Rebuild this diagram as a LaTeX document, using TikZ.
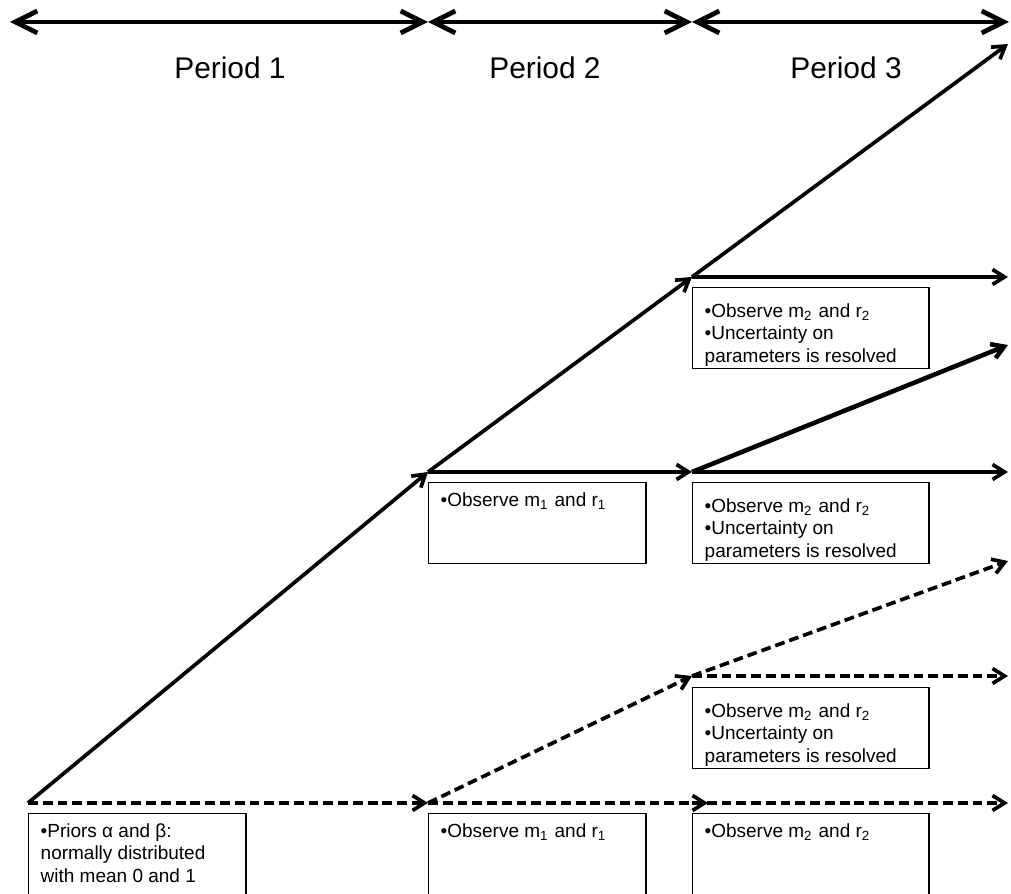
\documentclass[tikz,border=0pt]{standalone}
\usepackage{fontspec}
\setmainfont{Liberation Sans}
\usetikzlibrary{arrows.meta}
\newcommand{\pfont}{\fontsize{8.5}{10}\selectfont}
\newcommand{\bfont}{\fontsize{5.4}{6.4}\selectfont}
\newcommand{\obs}[1]{•Observe m\textsubscript{#1} and r\textsubscript{#1}}
\newcommand{\resolved}{\vspace*{1.6pt}\obs{2}\\•Uncertainty on\\parameters is resolved}

\tikzset{
  pathline/.style={line width=1.05pt, -{Straight Barb[length=1.2mm,width=1.5mm]}},
  waitline/.style={pathline, dash pattern=on 2.8pt off 1.4pt},
  periodline/.style={line width=1.35pt,
    {Straight Barb[length=2.2mm,width=2.2mm]}-{Straight Barb[length=2.2mm,width=2.2mm]}},
  infobox/.style={draw, line width=0.4pt, anchor=north west, inner xsep=0.12cm,
    inner ysep=0.1cm, font=\bfont},
}

\begin{document}
\begin{tikzpicture}[x=0.01cm, y=-0.01cm]
  \useasboundingbox (0,0) rectangle (1011,894);
  % period markers
  \coordinate (t0) at (10,22); \coordinate (t1) at (428,22);
  \coordinate (t2) at (692,22); \coordinate (t3) at (1009,22);
  \draw[periodline] (t0) -- (t1); \draw[periodline] (t1) -- (t2);
  \draw[periodline] (t2) -- (t3);
  \node[font=\pfont] (p1) at (230,68) {Period 1};
  \node[font=\pfont] (p2) at (545,68) {Period 2};
  \node[font=\pfont] (p3) at (846,68) {Period 3};

  % decision points
  \coordinate (root) at (28,803);
  \coordinate (hi) at (428,472); \coordinate (lo) at (428,803);
  \coordinate (hihi) at (692,277); \coordinate (hilo) at (692,472);
  \coordinate (lohi) at (692,676); \coordinate (lolo) at (692,803);
  \coordinate (e1) at (1008,44); \coordinate (e2) at (1008,277);
  \coordinate (e3) at (1008,345); \coordinate (e4) at (1008,472);
  \coordinate (e5) at (1008,561); \coordinate (e6) at (1008,676);
  \coordinate (e7) at (1008,803);

  \draw[pathline] (root) -- (hi); \draw[waitline] (root) -- (lo);
  \draw[pathline] (hi) -- (hihi); \draw[pathline] (hi) -- (hilo);
  \draw[waitline] (lo) -- (lohi);
  \draw[waitline, shorten >=-1.6mm] (lo) -- (lolo);
  \draw[pathline] (hihi) -- (e1); \draw[pathline] (hihi) -- (e2);
  \draw[pathline, line width=1.3pt] (hilo) -- (e3); \draw[pathline] (hilo) -- (e4);
  \draw[waitline] (lohi) -- (e5); \draw[waitline] (lohi) -- (e6);
  \draw[waitline] (lolo) -- (e7);

  % information boxes
  \node[infobox] (box0) at (28,813) {\parbox[t][0.7cm][t]{1.93cm}{%
    •Priors α and β:\\normally distributed\\with mean 0 and 1}};
  \node[infobox] (box1) at (428,482) {\parbox[t][0.61cm][t]{1.93cm}{\obs{1}}};
  \node[infobox] (box2) at (428,813) {\parbox[t][0.7cm][t]{1.93cm}{\obs{1}}};
  \node[infobox] (box3) at (692,287) {\parbox[t][0.61cm][t]{2.12cm}{\resolved}};
  \node[infobox] (box4) at (692,482) {\parbox[t][0.61cm][t]{2.12cm}{\resolved}};
  \node[infobox] (box5) at (692,687) {\parbox[t][0.61cm][t]{2.12cm}{\resolved}};
  \node[infobox] (box6) at (692,813) {\parbox[t][0.7cm][t]{2.12cm}{\obs{2}}};
\end{tikzpicture}
\end{document}
